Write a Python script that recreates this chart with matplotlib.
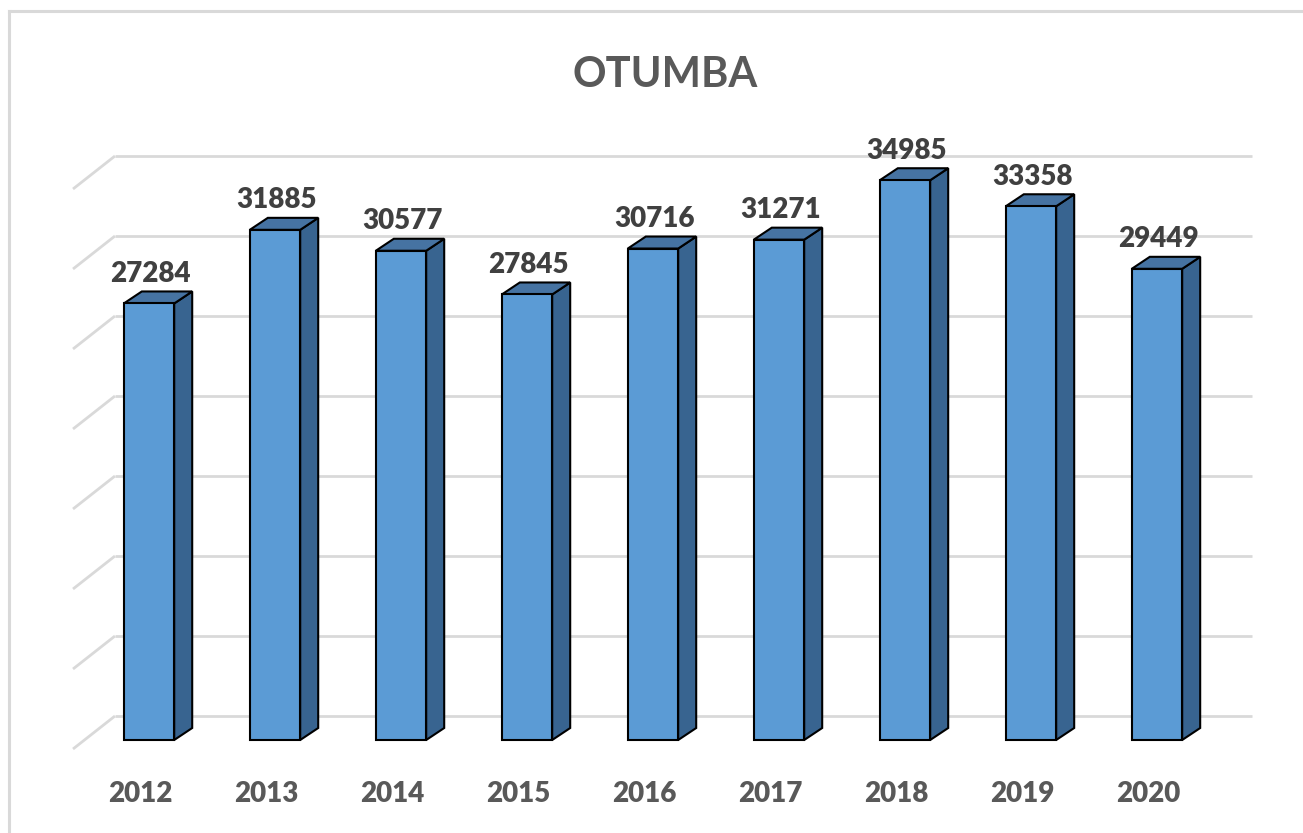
import matplotlib
matplotlib.use('Agg')
import matplotlib.pyplot as plt
from matplotlib.patches import Polygon
from matplotlib.lines import Line2D

years = ['2012', '2013', '2014', '2015', '2016', '2017', '2018', '2019', '2020']
values = [27284, 31885, 30577, 27845, 30716, 31271, 34985, 33358, 29449]
grid_ticks = [0, 5000, 10000, 15000, 20000, 25000, 30000, 35000]

FONT = ['Lato', 'DejaVu Sans']
front_col = '#5b9bd5'
top_col = '#4673a2'
side_col = '#386490'
grid_col = '#d9d9d9'

# 3d look: offsets in data units
w = 0.40        # bar front width
bdx, bdy = 0.143, 750     # bar depth
wall_back_x, wall_back_dy = -0.27, 1500   # back wall relative to bar front plane
wall_front_x, wall_front_dy = -0.603, -562
wall_right = 8.754

fig = plt.figure(figsize=(13.03, 8.33), dpi=100)
ax = fig.add_axes([0, 0, 1, 1])
ax.set_xlim(-1.1825, 9.159)
ax.set_ylim(-5812, 46250)
ax.axis('off')

# gridlines on the back wall + left side wall
for t in grid_ticks:
    ax.plot([wall_back_x, wall_right], [t + wall_back_dy, t + wall_back_dy],
            color=grid_col, lw=2, zorder=1, solid_capstyle='butt')
    ax.plot([wall_front_x, wall_back_x], [t + wall_front_dy, t + wall_back_dy],
            color=grid_col, lw=2, zorder=1, solid_capstyle='butt')

for i, v in enumerate(values):
    l, r = i - w / 2, i + w / 2
    side = Polygon([(r, 0), (r + bdx, bdy), (r + bdx, v + bdy), (r, v)],
                   closed=True, facecolor=side_col, edgecolor='black', lw=1.5, zorder=3)
    top = Polygon([(l, v), (r, v), (r + bdx, v + bdy), (l + bdx, v + bdy)],
                  closed=True, facecolor=top_col, edgecolor='black', lw=1.5, zorder=3)
    front = Polygon([(l, 0), (r, 0), (r, v), (l, v)],
                    closed=True, facecolor=front_col, edgecolor='black', lw=1.5, zorder=4)
    ax.add_patch(side)
    ax.add_patch(top)
    ax.add_patch(front)
    ax.text(i + 0.01, v + bdy + 600, str(v), ha='center', va='baseline',
            fontsize=20, fontweight='heavy', color='#404040', family=FONT, zorder=5)
    ax.text(i - 0.07, -3875, years[i], ha='center', va='baseline',
            fontsize=20, fontweight='heavy', color='#595959', family=FONT, zorder=5)

fig.text(665 / 1303, 1 - 87 / 833, 'OTUMBA', ha='center', va='baseline',
         fontsize=30, fontweight='bold', color='#595959', family=FONT)

# chart frame
fig.add_artist(Line2D([9 / 1303, 1], [1 - 10.5 / 833, 1 - 10.5 / 833],
                      transform=fig.transFigure, color=grid_col, lw=2.2))
fig.add_artist(Line2D([9 / 1303, 9 / 1303], [0, 1 - 10.5 / 833],
                      transform=fig.transFigure, color=grid_col, lw=2.2))

fig.savefig('out.png', dpi=100)
